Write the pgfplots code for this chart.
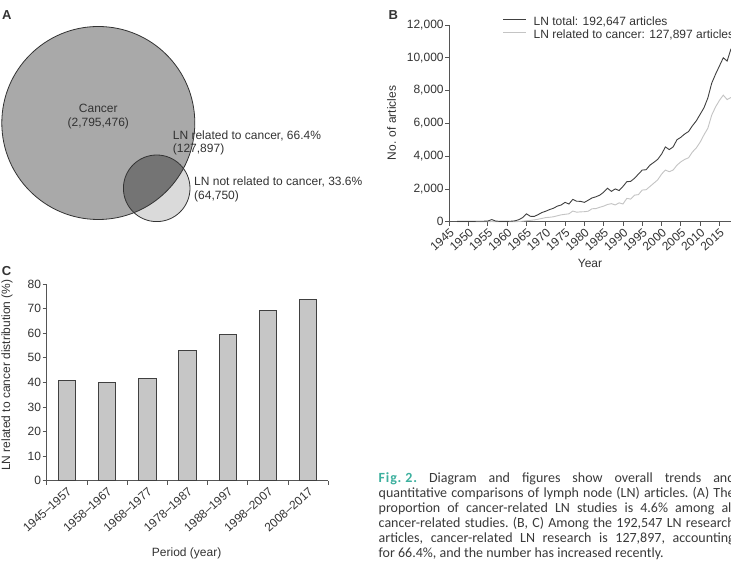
\documentclass[border=0pt]{standalone}
\usepackage{fontspec}
\setmainfont{Liberation Sans}
\newfontfamily\capfont{Carlito}
\usepackage{pgfplots}
\usepackage{pgfplotstable}
\pgfplotsset{compat=1.18}
\definecolor{txt}{HTML}{333333}
\definecolor{axc}{HTML}{555555}
\definecolor{darkline}{HTML}{404040}
\definecolor{lightline}{HTML}{C4C4C4}
\definecolor{vennA}{HTML}{A9A9A9}
\definecolor{vennB}{HTML}{DADADA}
\definecolor{vennAB}{HTML}{747474}
\definecolor{barfill}{HTML}{C6C6C6}
\definecolor{figteal}{RGB}{60,176,158}
\definecolor{captxt}{HTML}{3A3A3A}

\pgfplotstableread{
year total cancer
1947 20 0
1948 20 0
1949 20 0
1950 20 0
1951 20 0
1952 25 0
1953 25 0
1954 30 0
1955 40 5
1956 130 10
1957 40 5
1958 20 0
1959 20 0
1960 20 0
1961 30 0
1962 50 5
1963 120 10
1964 250 30
1965 480 60
1966 330 80
1967 320 110
1968 430 150
1969 560 200
1970 640 250
1971 740 270
1972 820 300
1973 950 360
1974 1020 420
1975 1180 450
1976 1080 480
1977 1360 650
1978 1250 580
1979 1240 600
1980 1180 610
1981 1310 640
1982 1450 790
1983 1520 800
1984 1620 880
1985 1800 950
1986 2040 1050
1987 1850 1100
1988 2000 1020
1989 1900 1150
1990 2150 1080
1991 2440 1420
1992 2460 1380
1993 2650 1620
1994 2900 1650
1995 3150 1930
1996 3170 1950
1997 3450 2150
1998 3620 2350
1999 3800 2550
2000 4120 2900
2001 4560 3150
2002 4400 3050
2003 4560 3150
2004 5000 3450
2005 5150 3650
2006 5350 3800
2007 5500 3900
2008 5850 4250
2009 6150 4500
2010 6550 4850
2011 6950 5300
2012 7550 5700
2013 8450 6500
2014 9000 7000
2015 9500 7400
2016 10000 7720
2017 9800 7450
2018 10550 7580
}\lntable

\pgfplotsset{
  panel/.style={
    scale only axis,
    axis x line*=bottom, axis y line*=left,
    axis line style={axc, line width=0.8pt, -},
    tick style={axc, line width=0.8pt},
    tick align=outside, major tick length=4pt,
    /pgf/number format/assume math mode=true,
    tick label style={font=\fontsize{12}{14}\selectfont, text=txt},
    label style={font=\fontsize{12}{14}\selectfont, text=txt},
  }
}

\begin{document}
\begin{tikzpicture}
\path[use as bounding box] (0pt,0pt) rectangle (731pt,575pt);
\fill[white] (0pt,0pt) rectangle (731pt,575pt);

% ---------- Panel A ----------
\begin{axis}[at={(0pt,315pt)}, anchor=south west, scale only axis,
  width=370pt, height=260pt, xmin=0, xmax=370, ymin=0, ymax=260,
  y dir=reverse, hide axis, clip=false]
\fill[vennA] (axis cs:98.3,123) circle[radius=96.5pt];
\fill[vennB] (axis cs:156.7,188.3) circle[radius=33.3pt];
\begin{scope}
\clip (axis cs:98.3,123) circle[radius=96.5pt];
\fill[vennAB] (axis cs:156.7,188.3) circle[radius=33.3pt];
\end{scope}
\draw[txt, line width=0.8pt] (axis cs:98.3,123) circle[radius=96.5pt];
\draw[txt, line width=0.8pt] (axis cs:156.7,188.3) circle[radius=33.3pt];
\begin{scope}[every node/.style={font=\fontsize{12}{14}\selectfont, text=txt, inner sep=0pt}]
\node[anchor=base] at (axis cs:98.3,112.7) {Cancer};
\node[anchor=base] at (axis cs:98.3,126.2) {(2,795,476)};
\node[anchor=base west] at (axis cs:172.7,139.3) {LN related to cancer, 66.4\%};
\node[anchor=base west] at (axis cs:172.7,152.5) {(127,897)};
\node[anchor=base west] at (axis cs:194,185.7) {LN not related to cancer, 33.6\%};
\node[anchor=base west] at (axis cs:194,199.2) {(64,750)};
\end{scope}
\end{axis}

% ---------- Panel B ----------
\begin{axis}[panel, at={(449.3pt,353.3pt)}, anchor=south west,
  width=281.7pt, height=196.7pt,
  xmin=1945, xmax=2018, ymin=0, ymax=12000,
  xtick={1945,1950,...,2015}, ytick={0,2000,...,12000},
  scaled y ticks=false,
  x tick label style={/pgf/number format/1000 sep={}, rotate=42, anchor=north east, inner sep=1pt},
  y tick label style={/pgf/number format/1000 sep={,}, inner sep=1.5pt},
  xlabel={Year}, ylabel={No. of articles},
  x label style={at={(axis description cs:0.4995,-0.21)}, anchor=center},
  y label style={at={(axis description cs:-0.2045,0.502)}, anchor=center},
  legend style={at={(axis description cs:0.1906,1.041)}, anchor=north west,
    draw=none, fill=none, inner sep=0pt, outer sep=0pt, row sep=0pt,
    font=\fontsize{12}{14}\selectfont, text=txt,
    nodes={inner sep=0pt, text height=9pt, text depth=3.7pt}},
  legend cell align=left,
  legend image code/.code={\draw[#1] (0pt,3.5pt) -- (23pt,3.5pt); \path (29.7pt,3.5pt);},
  clip=false]
\addplot[lightline, line width=0.9pt, forget plot] table[x=year, y=cancer] {\lntable};
\addplot[darkline, line width=0.9pt, forget plot] table[x=year, y=total] {\lntable};
\addlegendimage{darkline, line width=0.9pt}
\addlegendentry{LN total: 192,647 articles}
\addlegendimage{lightline, line width=0.9pt}
\addlegendentry{LN related to cancer: 127,897 articles}
\end{axis}

% ---------- Panel C ----------
\begin{axis}[panel, at={(46.7pt,94.3pt)}, anchor=south west,
  width=281.6pt, height=196.7pt,
  xmin=-0.5, xmax=6.5, ymin=0, ymax=80,
  xtick={-0.5,0.5,...,6.5}, x tick label as interval,
  xticklabels={1945–1957,1958–1967,1968–1977,1978–1987,1988–1997,1998–2007,2008–2017},
  x tick label style={rotate=42, anchor=north east, inner sep=1pt},
  ytick={0,10,...,80},
  y tick label style={inner sep=1.5pt},
  xlabel={Period (year)}, ylabel={LN related to cancer distribution (\%)},
  x label style={at={(axis description cs:0.497,-0.369)}, anchor=center},
  y label style={at={(axis description cs:-0.141,0.537)}, anchor=center}]
\addplot[ybar, bar width=17.3pt, fill=barfill, draw=darkline, line width=0.8pt]
  coordinates {(0,40.9) (1,40.1) (2,41.6) (3,53.1) (4,59.5) (5,69.1) (6,73.9)};
\end{axis}

% ---------- Panel letters ----------
\begin{scope}[every node/.style={font=\fontsize{13}{15}\selectfont\bfseries, text=txt, inner sep=0pt, anchor=base west}]
\node at (2pt,555pt) {A};
\node at (388.3pt,555.5pt) {B};
\node at (1.7pt,299pt) {C};
\end{scope}

% ---------- Caption ----------
\begin{scope}[every node/.style={font=\capfont\fontsize{14}{15}\selectfont\frenchspacing, text=captxt, inner sep=0pt, anchor=base west}]
\node at (378.5pt,92.3pt) {\makebox[356pt][s]{{\color{figteal}\bfseries\addfontfeatures{LetterSpace=6}Fig.\hspace{4pt}2.} Diagram and figures show overall trends and}};
\node at (378.5pt,77.3pt) {\makebox[356pt][s]{quantitative comparisons of lymph node (LN) articles. (A) The}};
\node at (378.5pt,62.3pt) {\makebox[356pt][s]{proportion of cancer-related LN studies is 4.6\% among all}};
\node at (378.5pt,47.3pt) {\makebox[356pt][s]{cancer-related studies. (B, C) Among the 192,547 LN research}};
\node at (378.5pt,32.3pt) {\makebox[356pt][s]{articles, cancer-related LN research is 127,897, accounting}};
\node at (378.5pt,17.3pt) {for 66.4\%, and the number has increased recently.};
\end{scope}
\end{tikzpicture}
\end{document}
